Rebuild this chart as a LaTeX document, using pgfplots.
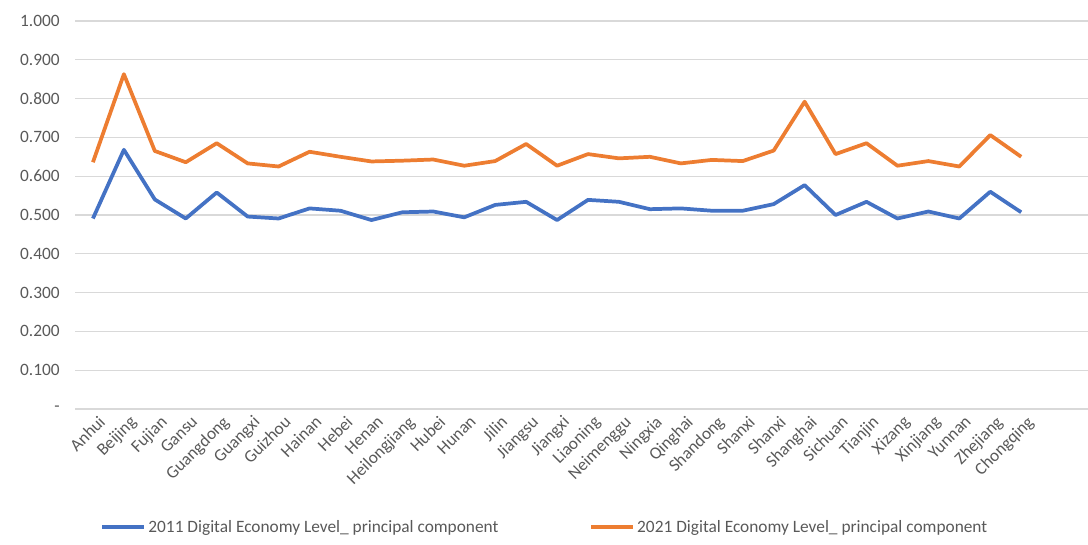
\documentclass[border=0pt]{standalone}
\usepackage{pgfplots}
\pgfplotsset{compat=1.18}
\usepackage{fontspec}
\setmainfont{Carlito}
\definecolor{xblue}{HTML}{4472C4}
\definecolor{xorange}{HTML}{ED7D31}
\definecolor{xgrid}{HTML}{D9D9D9}
\definecolor{xtext}{HTML}{595959}
\begin{document}
\begin{tikzpicture}
\useasboundingbox (0,0) rectangle (816pt,408pt);
\begin{axis}[
  at={(56.25pt,101.25pt)}, anchor=south west,
  scale only axis, width=760pt, height=291pt,
  xmin=-0.58, xmax=32.17, ymin=0, ymax=1,
  axis line style={draw=none},
  ytick={0,0.1,0.2,0.3,0.4,0.5,0.6,0.7,0.8,0.9,1.0},
  yticklabels={{-},0.100,0.200,0.300,0.400,0.500,0.600,0.700,0.800,0.900,1.000},
  ymajorgrids, grid style={xgrid, line width=0.8pt},
  xtick={0,...,30},
  xticklabels={Anhui,Beijing,Fujian,Gansu,Guangdong,Guangxi,Guizhou,Hainan,Hebei,Henan,Heilongjiang,Hubei,Hunan,Jilin,Jiangsu,Jiangxi,Liaoning,Neimenggu,Ningxia,Qinghai,Shandong,Shanxi,Shanxi,Shanghai,Sichuan,Tianjin,Xizang,Xinjiang,Yunnan,Zhejiang,Chongqing},
  major tick length=0pt,
  tick label style={font=\fontsize{13}{15}\selectfont, text=xtext},
  yticklabel style={xshift=-8pt},
  xticklabel style={rotate=45, anchor=north east, xshift=3pt, yshift=-2pt},
  legend columns=2,
  legend style={at={(0.464,-0.305)}, anchor=center, draw=none, fill=none,
    font=\fontsize{13}{15}\selectfont, text=xtext,
    /tikz/every even column/.append style={column sep=66pt}},
  legend image code/.code={\draw[#1, line width=3pt] (0pt,0pt) -- (31pt,0pt);},
]
\addplot[xblue, line width=2.8pt, line join=round] coordinates {
(0,0.491) (1,0.668) (2,0.540) (3,0.491) (4,0.558) (5,0.496) (6,0.491) (7,0.517) (8,0.511) (9,0.487)
(10,0.507) (11,0.509) (12,0.494) (13,0.526) (14,0.534) (15,0.487) (16,0.539) (17,0.534) (18,0.515) (19,0.517)
(20,0.511) (21,0.511) (22,0.528) (23,0.577) (24,0.500) (25,0.534) (26,0.491) (27,0.509) (28,0.491) (29,0.560) (30,0.507)};
\addlegendentry{2011 Digital Economy Level\_ principal component}
\addplot[xorange, line width=2.8pt, line join=round] coordinates {
(0,0.636) (1,0.863) (2,0.665) (3,0.636) (4,0.685) (5,0.633) (6,0.625) (7,0.663) (8,0.650) (9,0.638)
(10,0.640) (11,0.643) (12,0.627) (13,0.639) (14,0.683) (15,0.627) (16,0.657) (17,0.646) (18,0.650) (19,0.633)
(20,0.642) (21,0.639) (22,0.666) (23,0.792) (24,0.657) (25,0.685) (26,0.627) (27,0.639) (28,0.625) (29,0.706) (30,0.650)};
\addlegendentry{2021 Digital Economy Level\_ principal component}
\end{axis}
\end{tikzpicture}
\end{document}
